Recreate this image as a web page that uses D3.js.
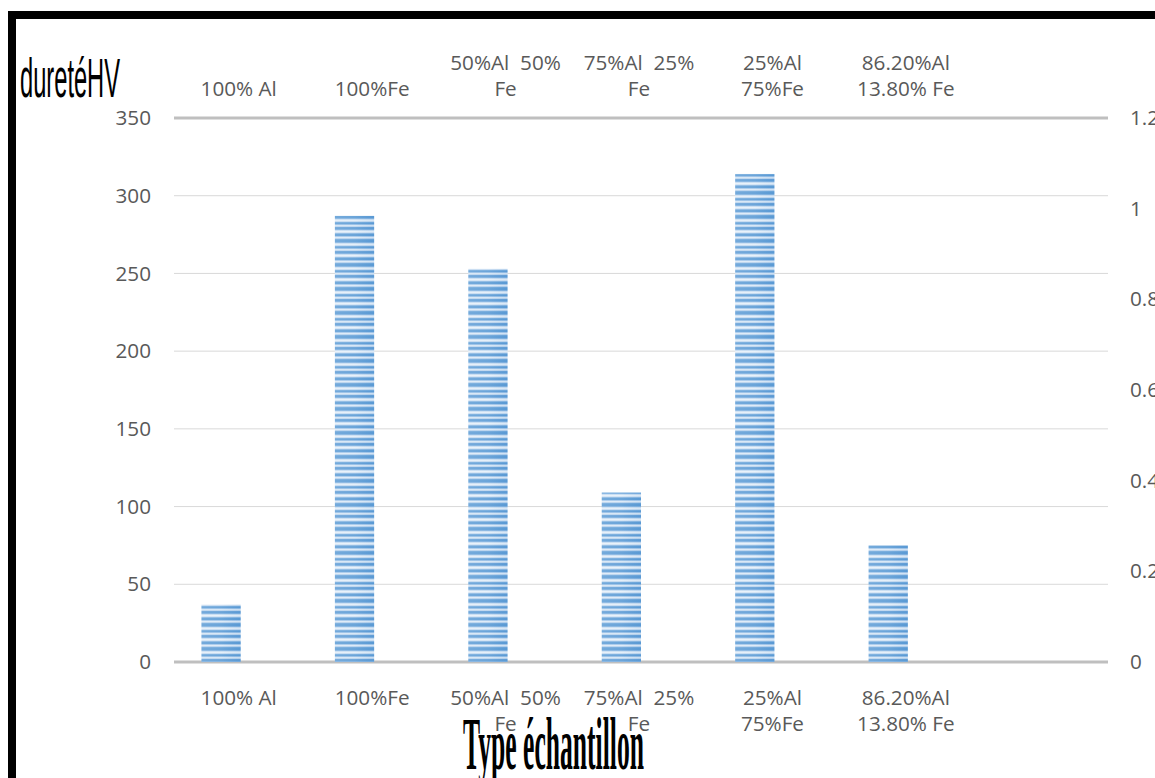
<!DOCTYPE html>
<html>
<head>
<meta charset="utf-8">
<script src="https://cdn.jsdelivr.net/npm/d3@7"></script>
<style>
  html, body { margin: 0; padding: 0; background: #fff; }
  svg { display: block; }
  text { white-space: pre; }
</style>
</head>
<body>
<svg id="chart" width="1155" height="778"></svg>
<script>
// ---- data ----
const categories = ["100% Al", "100%Fe", "50%Al  50%\nFe", "75%Al  25%\nFe", "25%Al\n75%Fe", "86.20%Al\n13.80% Fe", ""];
const hardness = [37, 287, 253, 109, 314, 75, null];
const leftTicks = [0, 50, 100, 150, 200, 250, 300, 350];
const rightTicks = [0, 0.2, 0.4, 0.6, 0.8, 1, 1.2];
const yTitle = "duretéHV";
const xTitle = "Type échantillon";

// ---- layout ----
const plotL = 174, plotR = 1108, plotT = 118, plotB = 662;
const font = "'Open Sans', 'Noto Sans', sans-serif";
const fs = 20.7;
const grey = "#595959";

const svg = d3.select("#chart");

// border
svg.append("rect").attr("x", 12).attr("y", 15).attr("width", 1300).attr("height", 900)
  .attr("fill", "none").attr("stroke", "#000").attr("stroke-width", 8);

const x = d3.scaleBand().domain(categories.map((c, i) => i)).range([plotL, plotR]).padding(0);
const y = d3.scaleLinear().domain([0, 350]).range([plotB, plotT]);
const y2 = d3.scaleLinear().domain([0, 1.2]).range([plotB, plotT]);

// pattern for bars
const defs = svg.append("defs");
const pat = defs.append("pattern").attr("id", "stripes").attr("patternUnits", "userSpaceOnUse")
  .attr("width", 10).attr("height", 24);
const stripeCols = ["#5b9bd5","#5b9bd5","#7fb0df","#c9def2","#e3eef9","#c2d9f0","#6ea7db","#5b9bd5","#92bce5","#d4e5f5","#bad4ee","#649fd7","#5b9bd5","#78acde","#c4dbf1","#e6f0fa","#d0e2f4","#86b5e1","#5b9bd5","#5b9bd5","#a4c7ea","#dbe9f7","#b5d1ed","#6ba5da"];
stripeCols.forEach((c, i) => {
  pat.append("rect").attr("x", 0).attr("y", i).attr("width", 10).attr("height", 1).attr("fill", c);
});
const hg = defs.append("linearGradient").attr("id", "hshade").attr("x1", 0).attr("x2", 1).attr("y1", 0).attr("y2", 0);
hg.append("stop").attr("offset", "0%").attr("stop-color", "#fff").attr("stop-opacity", 0.15);
hg.append("stop").attr("offset", "50%").attr("stop-color", "#fff").attr("stop-opacity", 0.1);
hg.append("stop").attr("offset", "100%").attr("stop-color", "#4a86c5").attr("stop-opacity", 0.08);

// gridlines
svg.append("g").selectAll("line").data(leftTicks).join("line")
  .attr("x1", plotL).attr("x2", plotR)
  .attr("y1", d => y(d)).attr("y2", d => y(d))
  .attr("stroke", d => (d === 0 || d === 350) ? "#bfbfbf" : "#d9d9d9")
  .attr("stroke-width", d => (d === 0 || d === 350) ? 3 : 1);

// bars
const bw = x.bandwidth() / 3.4;
const barData = hardness.map((v, i) => ({ i, v })).filter(d => d.v != null);
svg.append("g").selectAll("rect").data(barData).join("rect")
  .attr("x", d => x(d.i) + 0.7 * bw).attr("width", bw)
  .attr("y", d => y(d.v)).attr("height", d => y(0) - y(d.v))
  .attr("fill", "url(#stripes)");
svg.append("g").selectAll("rect").data(barData).join("rect")
  .attr("x", d => x(d.i) + 0.7 * bw).attr("width", bw)
  .attr("y", d => y(d.v)).attr("height", d => y(0) - y(d.v))
  .attr("fill", "url(#hshade)");

// left axis
const la = svg.append("g").attr("transform", `translate(${plotL},0)`)
  .call(d3.axisLeft(y).tickValues(leftTicks).tickSize(0).tickPadding(23));
la.select(".domain").remove();
la.selectAll("text").attr("font-family", font).attr("font-size", fs).attr("fill", grey);

// right axis
const ra = svg.append("g").attr("transform", `translate(${plotR},0)`)
  .call(d3.axisRight(y2).tickValues(rightTicks).tickSize(0).tickPadding(22).tickFormat(d3.format("~g")));
ra.select(".domain").remove();
ra.selectAll("text").attr("font-family", font).attr("font-size", fs).attr("fill", grey);

// titles
svg.append("text").attr("x", 20).attr("y", 97).text(yTitle)
  .attr("font-family", "'Liberation Sans', sans-serif").attr("font-size", 56)
  .attr("textLength", 100).attr("lengthAdjust", "spacingAndGlyphs").attr("fill", "#000");
svg.append("text").attr("x", 463).attr("y", 769).text(xTitle)
  .attr("font-family", "'Liberation Serif', serif").attr("font-weight", "bold").attr("font-size", 74)
  .attr("textLength", 181).attr("lengthAdjust", "spacingAndGlyphs").attr("fill", "#000");

// category labels, bottom and top
const lh = 26;
categories.forEach((c, i) => {
  const lines = c.split("\n");
  const cx = x(i) + x.bandwidth() / 2 - 2;
  const tb = svg.append("text").attr("font-family", font).attr("font-size", fs).attr("fill", grey).attr("text-anchor", "middle");
  lines.forEach((ln, k) => tb.append("tspan").attr("x", cx).attr("y", 704.5 + k * lh).text(ln));
  const tt = svg.append("text").attr("font-family", font).attr("font-size", fs).attr("fill", grey).attr("text-anchor", "middle");
  lines.forEach((ln, k) => tt.append("tspan").attr("x", cx).attr("y", 95.5 - (lines.length - 1 - k) * lh).text(ln));
});
</script>
</body>
</html>
